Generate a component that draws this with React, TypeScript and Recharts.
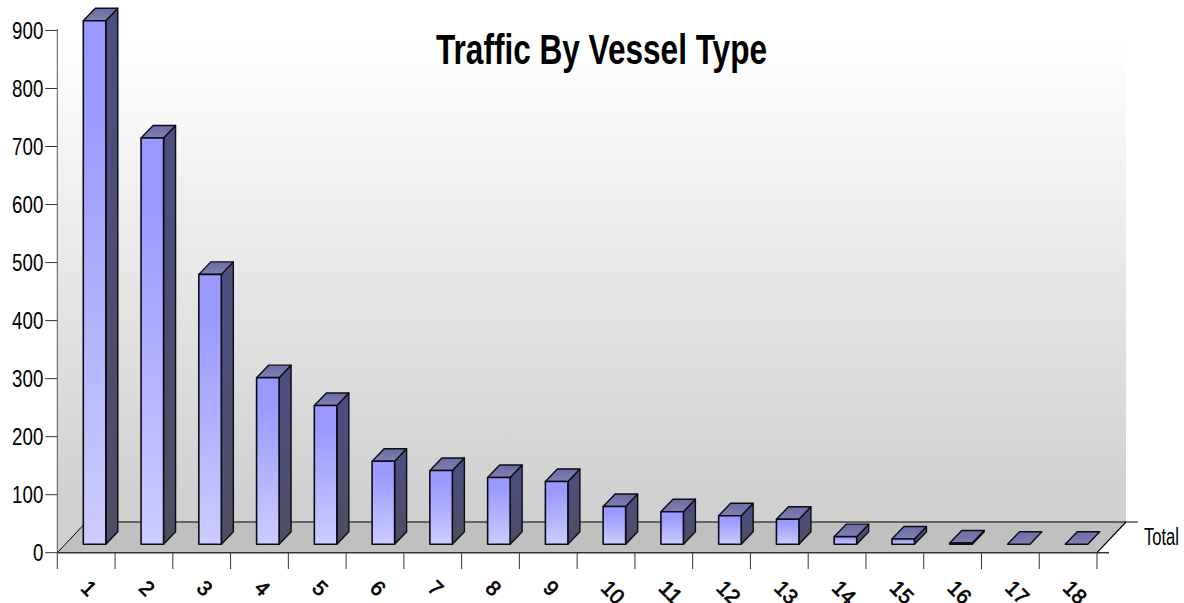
import { BarChart, Bar, XAxis, YAxis, Customized } from "recharts";

const categories = ["1", "2", "3", "4", "5", "6", "7", "8", "9", "10", "11", "12", "13", "14", "15", "16", "17", "18"];
const totals = [902, 700, 465, 287, 239, 143, 127, 115, 108, 65, 56, 49, 43, 13, 9, 2, 0, 0];
const valueTicks = [0, 100, 200, 300, 400, 500, 600, 700, 800, 900];
const depthLabel = "Total";
const title = "Traffic By Vessel Type";

const chartData = categories.map((name, i) => ({ name, total: totals[i] }));

const FONT = '"Liberation Sans", Arial, sans-serif';
const WIDTH = 1184;
const HEIGHT = 603;
const LEFT = 57.3;
const RIGHT = 1097;
const TOP = 29.3;
const BOTTOM = 552.7;
const BAND = (RIGHT - LEFT) / categories.length;

// how far the bars sit in from the front edge of the floor, and their 3d depth
const INSET_X = 8;
const INSET_Y = 8.5;
const DEPTH_X = 12;
const DEPTH_Y = 12.5;

function Bar3D(props: any) {
    const { x, y, width, height } = props;
    const left = x + INSET_X;
    const right = left + width;
    const top = y - INSET_Y;
    const bottom = top + height;
    const stroke = "#0c0c14";
    return (
        <g strokeLinejoin="round">
            {height > 0 && (
                <polygon
                    points={`${right},${top} ${right + DEPTH_X},${top - DEPTH_Y} ${right + DEPTH_X},${bottom - DEPTH_Y} ${right},${bottom}`}
                    fill="url(#sideFace)"
                    stroke={stroke}
                    strokeWidth={1.4}
                />
            )}
            <polygon
                points={`${left},${top} ${left + DEPTH_X},${top - DEPTH_Y} ${right + DEPTH_X},${top - DEPTH_Y} ${right},${top}`}
                fill="url(#topFace)"
                stroke={stroke}
                strokeWidth={1.4}
            />
            {height > 0 && (
                <rect x={left} y={top} width={width} height={height} fill="url(#frontFace)" stroke={stroke} strokeWidth={1.6} />
            )}
        </g>
    );
}

function ValueTick(props: any) {
    const { x, y, payload } = props;
    const label = String(payload.value);
    return (
        <text
            x={x}
            y={y + 8.7}
            textAnchor="end"
            fontFamily={FONT}
            fontSize={24}
            fill="#000"
            textLength={label.length * 10.4}
            lengthAdjust="spacingAndGlyphs"
        >
            {label}
        </text>
    );
}

function CategoryTick(props: any) {
    const { x, payload, index } = props;
    const label = String(payload.value);
    const tx = x - 1;
    const ty = 584;
    return (
        <g>
            <line x1={x - BAND / 2} x2={x - BAND / 2} y1={BOTTOM} y2={569} stroke="#333" strokeWidth={1} />
            {index === categories.length - 1 && (
                <line x1={x + BAND / 2} x2={x + BAND / 2} y1={BOTTOM} y2={569} stroke="#333" strokeWidth={1} />
            )}
            <text
                x={tx}
                y={ty}
                transform={`rotate(45 ${tx} ${ty})`}
                textAnchor="start"
                dominantBaseline="central"
                fontFamily={FONT}
                fontSize={21}
                fill="#000"
                stroke="#000"
                strokeWidth={0.7}
                textLength={label.length * 11.5}
                lengthAdjust="spacingAndGlyphs"
            >
                {label}
            </text>
        </g>
    );
}

function Backdrop() {
    return (
        <g>
            <defs>
                <linearGradient id="wallFill" gradientUnits="userSpaceOnUse" x1="0" y1="40" x2="0" y2="500">
                    <stop offset="0" stopColor="#ffffff" />
                    <stop offset="1" stopColor="#d0d0d0" />
                </linearGradient>
                <linearGradient id="frontFace" x1="0" y1="0" x2="0" y2="1">
                    <stop offset="0.15" stopColor="#9999ff" />
                    <stop offset="1" stopColor="#ccccff" />
                </linearGradient>
                <linearGradient id="sideFace" x1="0" y1="0" x2="0" y2="1">
                    <stop offset="0.15" stopColor="#4d4d80" />
                    <stop offset="1" stopColor="#4d4d60" />
                </linearGradient>
                <linearGradient id="topFace" x1="0" y1="0" x2="0" y2="1">
                    <stop offset="0" stopColor="#6c6ca8" />
                    <stop offset="1" stopColor="#8080b0" />
                </linearGradient>
            </defs>
            <polygon points={`${LEFT},0 1126,0 1126,522 ${LEFT + 29},522 ${LEFT},${BOTTOM}`} fill="url(#wallFill)" />
            <polygon points={`${LEFT},${BOTTOM} ${LEFT + 29},522 1126,522 ${RIGHT},${BOTTOM}`} fill="#c0c0c0" />
            <line x1={LEFT} y1={BOTTOM} x2={LEFT + 29} y2={522} stroke="#000" strokeWidth={1} />
            <line x1={LEFT + 29} y1={522} x2={1138} y2={522} stroke="#000" strokeWidth={1} />
            <line x1={RIGHT} y1={BOTTOM} x2={1126} y2={522} stroke="#000" strokeWidth={1.2} />
            <line x1={RIGHT} y1={BOTTOM} x2={1109} y2={BOTTOM} stroke="#333" strokeWidth={1.5} />
            <text x={1144} y={545} fontFamily={FONT} fontSize={23} fill="#000" textLength={35} lengthAdjust="spacingAndGlyphs">
                {depthLabel}
            </text>
            <text
                x={436}
                y={63.5}
                fontFamily={FONT}
                fontSize={43}
                fontWeight="bold"
                fill="#000"
                textLength={331}
                lengthAdjust="spacingAndGlyphs"
            >
                {title}
            </text>
        </g>
    );
}

export default function App() {
    return (
        <div style={{ position: "absolute", left: 0, top: 0, width: WIDTH, height: HEIGHT, background: "#fff" }}>
            <BarChart
                width={WIDTH}
                height={HEIGHT}
                data={chartData}
                barSize={22.5}
                margin={{ top: TOP, right: WIDTH - RIGHT, bottom: 0, left: 0 }}
            >
                <Customized component={Backdrop} />
                <XAxis
                    dataKey="name"
                    height={HEIGHT - BOTTOM}
                    interval={0}
                    tickLine={false}
                    axisLine={{ stroke: "#333", strokeWidth: 1.5 }}
                    tick={<CategoryTick />}
                />
                <YAxis
                    width={LEFT}
                    domain={[0, 900]}
                    ticks={valueTicks}
                    tickSize={12}
                    tickLine={{ stroke: "#333", strokeWidth: 1 }}
                    axisLine={{ stroke: "#555", strokeWidth: 1 }}
                    tick={<ValueTick />}
                />
                <Bar dataKey="total" isAnimationActive={false} shape={<Bar3D />} />
            </BarChart>
        </div>
    );
}
